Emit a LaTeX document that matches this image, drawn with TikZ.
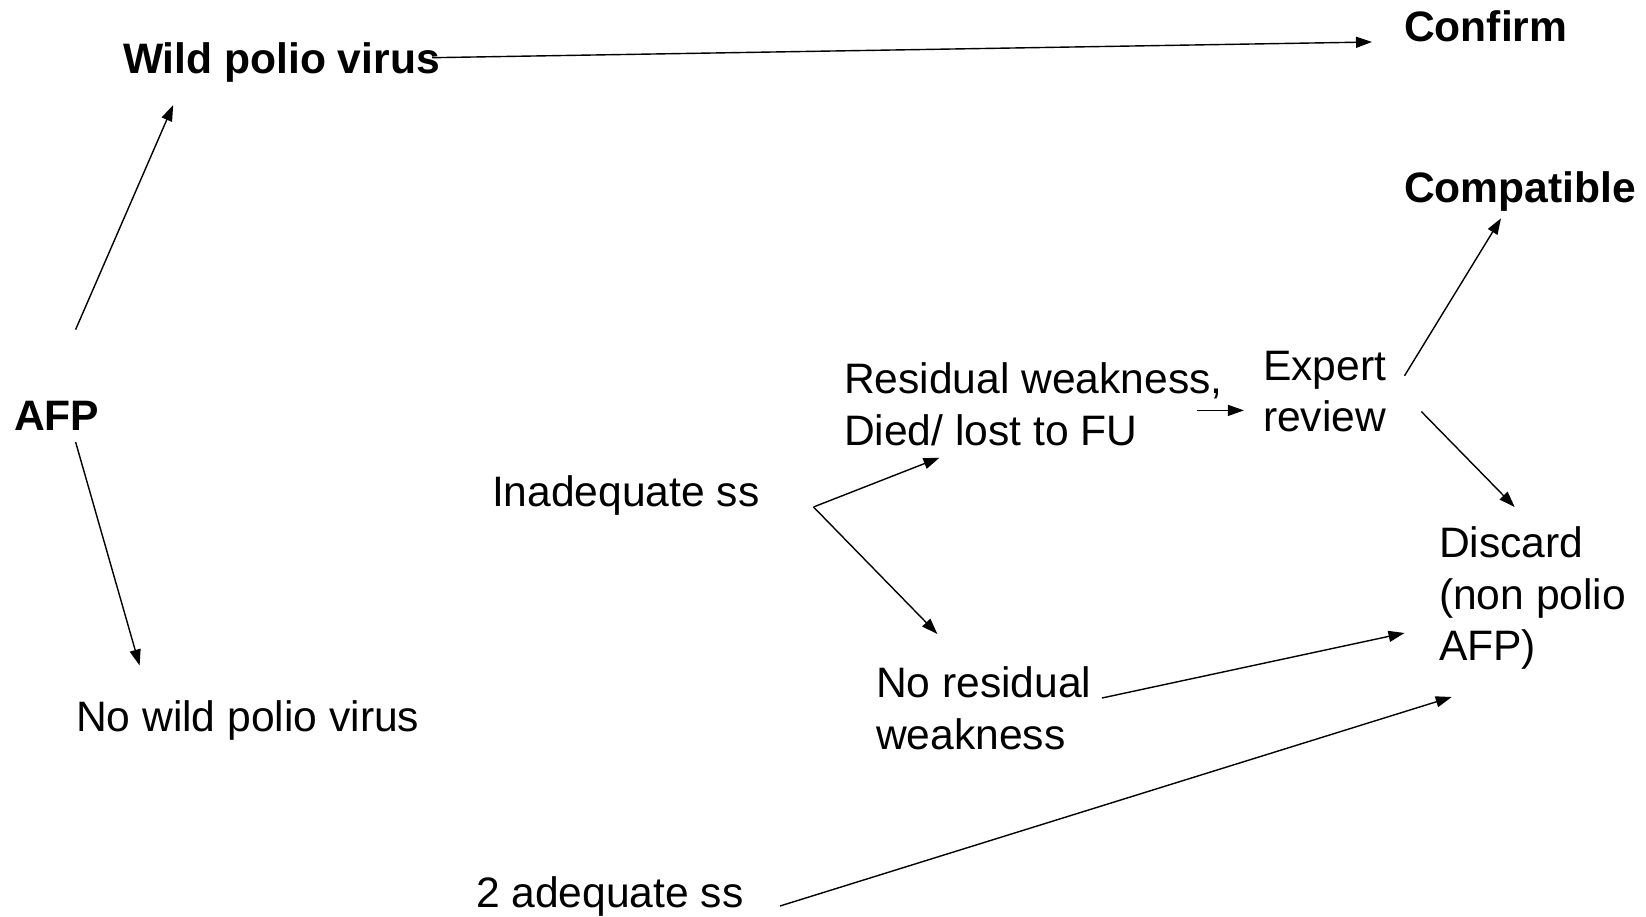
\documentclass[tikz,border=0pt]{standalone}
\usepackage{fontspec}
\setmainfont{Liberation Sans}
\usetikzlibrary{arrows.meta}
\begin{document}
\begin{tikzpicture}[x=1pt,y=-1pt,
  lbl/.style={inner sep=0pt,outer sep=0pt,anchor=base west,font=\fontsize{42.6}{51.4}\selectfont},
  blbl/.style={lbl,font=\fontsize{42.6}{51.4}\selectfont\bfseries},
  mlbl/.style={inner sep=0pt,outer sep=0pt,anchor=north west,align=left,font=\fontsize{42.6}{51.4}\selectfont},
  conn/.style={line width=1.4pt,-{Triangle[length=16pt,width=11pt]}}]
\useasboundingbox (0,0) rectangle (1646,917);
% nodes
\node[blbl] (wpv) at (123,73.5) {Wild polio virus};
\node[blbl] (conf) at (1404,42) {Confirm};
\node[blbl] (comp) at (1404,203) {Compatible};
\node[blbl] (afp) at (14,430) {AFP};
\node[lbl] (nwp) at (76,731) {No wild polio virus};
\node[lbl] (ina) at (492,506) {Inadequate ss};
\node[mlbl] (res) at (844,363) {Residual weakness,\\Died/ lost to FU};
\node[mlbl] (exp) at (1263,351) {Expert\\review};
\node[mlbl] (disc) at (1439,527) {Discard\\(non polio\\AFP)};
\node[mlbl] (nres) at (876,667) {No residual\\weakness};
\node[lbl] (adq) at (476,907) {2 adequate ss};
% connector end points
\coordinate (afpN) at (75.6,329.6);
\coordinate (wpvS) at (173.2,105);
\coordinate (wpvE) at (432,57.7);
\coordinate (confW) at (1372,42);
\coordinate (afpS) at (75.6,442);
\coordinate (nwpN) at (139.6,665.5);
\coordinate (inaE) at (813.5,507);
\coordinate (resS) at (939.5,457.7);
\coordinate (nresN) at (937.4,634);
\coordinate (resE) at (1196.7,410.4);
\coordinate (expW) at (1243.9,410.4);
\coordinate (expNE) at (1404.5,375.8);
\coordinate (compS) at (1501,218.3);
\coordinate (expSE) at (1421.3,411.5);
\coordinate (discN) at (1514.7,507);
\coordinate (nresE) at (1102,698);
\coordinate (discW) at (1404.5,633);
\coordinate (adqE) at (780,906);
\coordinate (discSW) at (1451.7,697);
% connectors
\draw[conn] (afpN) -- (wpvS);
\draw[conn] (wpvE) -- (confW);
\draw[conn] (afpS) -- (nwpN);
\draw[conn] (inaE) -- (resS);
\draw[conn] (inaE) -- (nresN);
\draw[conn] (resE) -- (expW);
\draw[conn] (expNE) -- (compS);
\draw[conn] (expSE) -- (discN);
\draw[conn] (nresE) -- (discW);
\draw[conn] (adqE) -- (discSW);
\end{tikzpicture}
\end{document}
